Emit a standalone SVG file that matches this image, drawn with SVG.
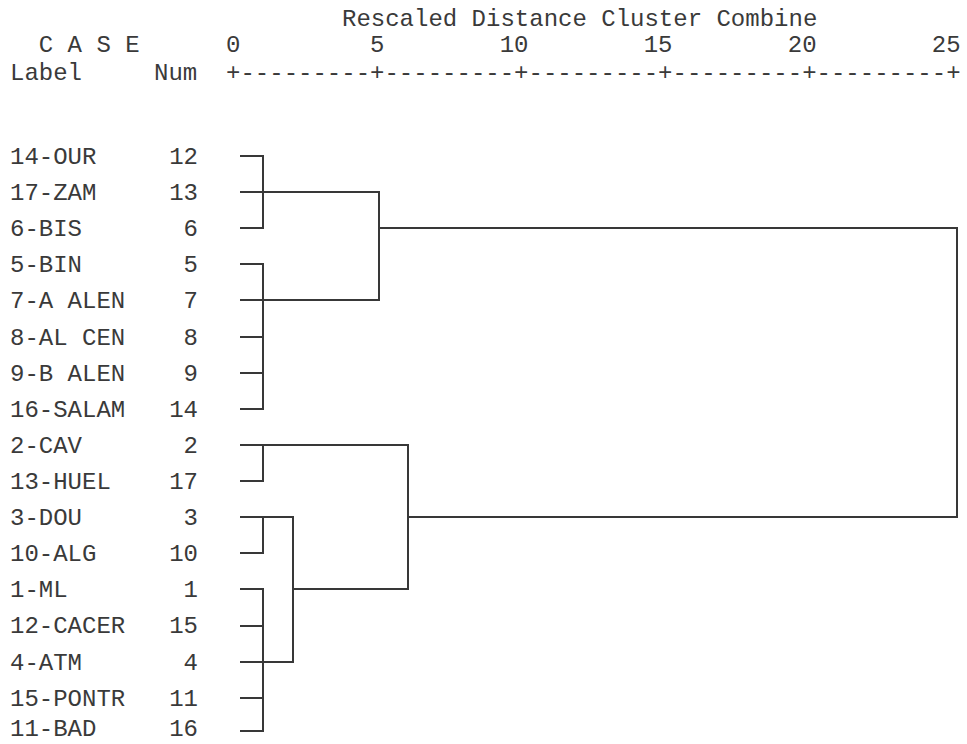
<svg xmlns="http://www.w3.org/2000/svg" width="967" height="744" viewBox="0 0 967 744">
<style>
.t{font-family:"Courier New","Liberation Mono",monospace;font-size:24px;fill:#3a3a3a}
.n{text-anchor:end}
.c path{fill:none;stroke:#383838;stroke-width:2;stroke-linecap:square}
</style>
<rect width="967" height="744" fill="#ffffff"/>
<g id="header">
<text class="t" x="342" y="26">Rescaled Distance Cluster Combine</text>
<text class="t" x="10" y="52" xml:space="preserve">  C A S E      0         5        10        15        20        25</text>
<text class="t" x="10" y="80" xml:space="preserve">Label     Num  +---------+---------+---------+---------+---------+</text>
</g>
<g id="leaf-OUR"><text class="t" x="10" y="164">14-OUR</text><text class="t n" x="198" y="164">12</text></g>
<g id="leaf-ZAM"><text class="t" x="10" y="200">17-ZAM</text><text class="t n" x="198" y="200">13</text></g>
<g id="leaf-BIS"><text class="t" x="10" y="236">6-BIS</text><text class="t n" x="198" y="236">6</text></g>
<g id="leaf-BIN"><text class="t" x="10" y="272">5-BIN</text><text class="t n" x="198" y="272">5</text></g>
<g id="leaf-AALEN"><text class="t" x="10" y="308">7-A ALEN</text><text class="t n" x="198" y="308">7</text></g>
<g id="leaf-ALCEN"><text class="t" x="10" y="345">8-AL CEN</text><text class="t n" x="198" y="345">8</text></g>
<g id="leaf-BALEN"><text class="t" x="10" y="381">9-B ALEN</text><text class="t n" x="198" y="381">9</text></g>
<g id="leaf-SALAM"><text class="t" x="10" y="417">16-SALAM</text><text class="t n" x="198" y="417">14</text></g>
<g id="leaf-CAV"><text class="t" x="10" y="453">2-CAV</text><text class="t n" x="198" y="453">2</text></g>
<g id="leaf-HUEL"><text class="t" x="10" y="489">13-HUEL</text><text class="t n" x="198" y="489">17</text></g>
<g id="leaf-DOU"><text class="t" x="10" y="525">3-DOU</text><text class="t n" x="198" y="525">3</text></g>
<g id="leaf-ALG"><text class="t" x="10" y="561">10-ALG</text><text class="t n" x="198" y="561">10</text></g>
<g id="leaf-ML"><text class="t" x="10" y="597">1-ML</text><text class="t n" x="198" y="597">1</text></g>
<g id="leaf-CACER"><text class="t" x="10" y="633">12-CACER</text><text class="t n" x="198" y="633">15</text></g>
<g id="leaf-ATM"><text class="t" x="10" y="670">4-ATM</text><text class="t n" x="198" y="670">4</text></g>
<g id="leaf-PONTR"><text class="t" x="10" y="706">15-PONTR</text><text class="t n" x="198" y="706">11</text></g>
<g id="leaf-BAD"><text class="t" x="10" y="736">11-BAD</text><text class="t n" x="198" y="736">16</text></g>
<g id="connectors" class="c">
<path d="M241 156H263V228M241 228H263M241 192H379"/>
<path d="M241 264H263V409M241 300H379M241 337H263M241 373H263M241 409H263"/>
<path d="M379 192V300M379 228H957V517"/>
<path d="M241 445H408M241 481H263M263 445V481"/>
<path d="M241 517H293M241 553H263M263 517V553"/>
<path d="M241 589H263V731M241 626H263M241 662H293M241 698H263M241 731H263"/>
<path d="M293 517V662M293 589H408"/>
<path d="M408 445V589M408 517H957"/>
</g>
</svg>
